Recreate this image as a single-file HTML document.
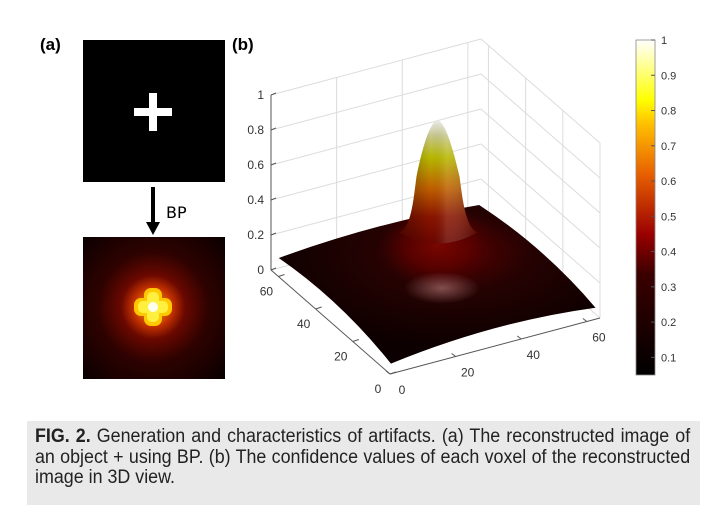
<!DOCTYPE html>
<html><head><meta charset="utf-8"><style>
body{margin:0;background:#fff;width:715px;height:517px;overflow:hidden;font-family:"Liberation Sans",sans-serif}
svg{position:absolute;left:0;top:0}
#caption{position:absolute;left:27px;top:421px;width:673px;height:84px;background:#e9e9e9}
#captext{position:absolute;left:8px;top:6px;width:697px;transform:scaleX(0.94);transform-origin:0 0;font-size:19px;line-height:20.5px;color:#222}
.ln{display:block;text-align:justify;text-align-last:justify;white-space:nowrap}
.ln.last{text-align-last:left}
</style></head><body>
<svg width="715" height="517" viewBox="0 0 715 517">
<defs>
<radialGradient id="glow" cx="0.5" cy="0.5" r="0.5">
<stop offset="0" stop-color="#ffb000"/><stop offset="0.2" stop-color="#c03000"/><stop offset="0.32" stop-color="#6a0800"/><stop offset="0.55" stop-color="#2e0200"/><stop offset="1" stop-color="#0a0000"/>
</radialGradient>
<linearGradient id="cmap" x1="0" y1="1" x2="0" y2="0">
<stop offset="0" stop-color="#000"/><stop offset="0.3" stop-color="#3a0000"/><stop offset="0.42" stop-color="#9a0000"/><stop offset="0.6" stop-color="#e86000"/><stop offset="0.75" stop-color="#ffc000"/><stop offset="0.82" stop-color="#ffff00"/><stop offset="1" stop-color="#ffffff"/>
</linearGradient>
<linearGradient id="peakg" x1="0" y1="0" x2="0" y2="1">
<stop offset="0" stop-color="#f0f0f0"/><stop offset="0.12" stop-color="#c8c890"/><stop offset="0.3" stop-color="#b8b800"/><stop offset="0.55" stop-color="#c06000"/><stop offset="0.78" stop-color="#8a1500"/><stop offset="1" stop-color="#6a0500"/>
</linearGradient>
<linearGradient id="peaksh" x1="0" y1="0" x2="1" y2="0">
<stop offset="0" stop-color="#000" stop-opacity="0.35"/><stop offset="0.4" stop-color="#000" stop-opacity="0"/><stop offset="0.6" stop-color="#fff" stop-opacity="0.12"/><stop offset="1" stop-color="#000" stop-opacity="0.3"/>
</linearGradient>
<radialGradient id="floorg" cx="0.55" cy="0.3" r="0.6">
<stop offset="0" stop-color="#5a0000"/><stop offset="0.4" stop-color="#260202"/><stop offset="1" stop-color="#0c0000"/>
</radialGradient>
<radialGradient id="redbase" cx="0.5" cy="0.5" r="0.5">
<stop offset="0" stop-color="#7a0600" stop-opacity="1"/><stop offset="0.55" stop-color="#600200" stop-opacity="0.7"/><stop offset="1" stop-color="#400000" stop-opacity="0"/>
</radialGradient>
<radialGradient id="spot" cx="0.5" cy="0.5" r="0.5">
<stop offset="0" stop-color="#c08080" stop-opacity="0.6"/><stop offset="1" stop-color="#c08080" stop-opacity="0"/>
</radialGradient>
</defs>

<text x="40" y="50" font-size="17" font-weight="bold">(a)</text>
<rect x="83" y="40" width="142" height="142" fill="#000"/>
<rect x="134" y="108" width="38" height="8" fill="#fff"/>
<rect x="149" y="93" width="8" height="38" fill="#fff"/>
<line x1="153" y1="187" x2="153" y2="225" stroke="#000" stroke-width="4"/>
<polygon points="146,222 160,222 153,235" fill="#000"/>
<text x="166" y="218" font-size="16" font-family="DejaVu Sans,sans-serif">BP</text>
<rect x="83" y="237" width="142" height="142" fill="#0a0000"/>
<g id="bpimg"></g>

<text x="232" y="50" font-size="17" font-weight="bold">(b)</text>
<g id="plot3d"></g>
<g id="cbar"></g>
</svg>
<div id="caption"><div id="captext">
<span class="ln"><b>FIG. 2.</b> Generation and characteristics of artifacts. (a) The reconstructed image of</span>
<span class="ln">an object + using BP. (b) The confidence values of each voxel of the reconstructed</span>
<span class="ln last">image in 3D view.</span>
</div></div>
<script>
const zTicks=[0,0.2,0.4,0.6,0.8,1];
const xTicks=[0,20,40,60];
const yTicks=[0,20,40,60];
const cbarTicks=[0.1,0.2,0.3,0.4,0.5,0.6,0.7,0.8,0.9,1];
const peakValue=[0.86];
const floorValue=[0.05];
(function(){
const NS='http://www.w3.org/2000/svg';
function mk(tag,attrs,parent){const e=document.createElementNS(NS,tag);for(const k in attrs)e.setAttribute(k,attrs[k]);parent.appendChild(e);return e;}
const bp=document.getElementById('bpimg');
const cp=mk('clipPath',{id:'bpclip'},bp);mk('rect',{x:83,y:237,width:142,height:142},cp);
const gg=mk('g',{'clip-path':'url(#bpclip)'},bp);
mk('circle',{cx:153,cy:307,r:100,fill:'url(#glow)'},gg);
const plusG=mk('g',{},gg);
mk('rect',{x:134,y:298,width:38,height:18,rx:7,fill:'#ffc800'},plusG);
mk('rect',{x:144,y:288,width:18,height:38,rx:7,fill:'#ffc800'},plusG);
mk('rect',{x:138,y:301,width:30,height:12,rx:5,fill:'#fff040'},plusG);
mk('rect',{x:147,y:292,width:12,height:30,rx:5,fill:'#fff040'},plusG);
mk('circle',{cx:153,cy:307,r:5,fill:'#fffff0'},plusG);

const O={x:390,y:374},EX={x:210,y:-56},EY={x:-119,y:-104},ZH=175;
function P(u,v,z){return {x:O.x+EX.x*u+EY.x*v,y:O.y+EX.y*u+EY.y*v-ZH*z};}
const g=document.getElementById('plot3d');
const grid='#dcdcdc';
function line(a,b,st,w,name){const l=mk('line',{x1:a.x,y1:a.y,x2:b.x,y2:b.y,stroke:st,'stroke-width':w||1},g);return l;}
zTicks.forEach(z=>{line(P(0,1,z),P(1,1,z),grid,1,'grid-z-left');line(P(1,1,z),P(1,0,z),grid,1,'grid-z-right');});
xTicks.forEach(t=>{const u=t/64;line(P(u,1,0),P(u,1,1),grid,1,'grid-x');});
yTicks.forEach(t=>{const v=t/64;line(P(1,v,0),P(1,v,1),grid,1,'grid-y');});
line(P(1,0,0),P(1,0,1),grid,1,'box-edge');
line(P(0,1,0),P(0,1,1),'#555',1,'z-axis');
const c1=P(0.02,0.97,floorValue[0]+0.03),c2=P(0.98,0.98,floorValue[0]+0.02),c3=P(0.99,0.02,floorValue[0]),c4=P(0.01,0.01,floorValue[0]);
const fd=`M${c1.x},${c1.y} Q${(c1.x+c2.x)/2},${(c1.y+c2.y)/2-10} ${c2.x},${c2.y} Q${(c2.x+c3.x)/2+8},${(c2.y+c3.y)/2-8} ${c3.x},${c3.y} Q${(c3.x+c4.x)/2},${(c3.y+c4.y)/2-14} ${c4.x},${c4.y} Q${(c4.x+c1.x)/2+6},${(c4.y+c1.y)/2-10} ${c1.x},${c1.y}Z`;
const floor=mk('path',{d:fd,fill:'url(#floorg)'},g);

const fc=mk('clipPath',{id:'floorclip'},g);mk('path',{d:fd},fc);
const fg=mk('g',{'clip-path':'url(#floorclip)'},g);
const rb=mk('ellipse',{cx:438,cy:245,rx:60,ry:42,fill:'url(#redbase)'},fg);

const sp=mk('ellipse',{cx:442,cy:288,rx:38,ry:16,fill:'url(#spot)'},fg);

const pTop=P(0.5,0.5,peakValue[0]);
const px=pTop.x+2,ty=pTop.y-23,by=ty+112;
const h=by-ty;
const pd=`M${px-38},${by} C${px-26},${by-5} ${px-24},${by-h*0.3} ${px-21},${by-h*0.5} C${px-15},${ty+26} ${px-7},${ty} ${px},${ty} C${px+7},${ty} ${px+15},${ty+26} ${px+22},${by-h*0.5} C${px+25},${by-h*0.3} ${px+28},${by-5} ${px+40},${by} Q${px},${by+22} ${px-38},${by} Z`;
const pk=mk('path',{d:pd,fill:'url(#peakg)'},g);

const pk2=mk('path',{d:pd,fill:'url(#peaksh)'},g);

line(P(0,1,0),P(0,0,0),'#555',1,'y-axis');
line(P(0,0,0),P(1,0,0),'#555',1,'x-axis');
function txt(x,y,s,anchor,name){const t=mk('text',{x:x,y:y,'font-size':12,fill:'#333','text-anchor':anchor},g);t.textContent=s;}
zTicks.forEach(z=>{const p=P(0,1,z);line(p,{x:p.x+5,y:p.y-2},'#555',1,'z-tick');txt(p.x-7,p.y+4,String(z),'end','z-tick-label');});
xTicks.forEach(t=>{const p=P(t/64,0,0);line(p,{x:p.x-4,y:p.y-3},'#555',1,'x-tick');txt(p.x+12,p.y+20,String(t),'middle','x-tick-label');});
yTicks.forEach(t=>{const p=P(0,t/64,0);line(p,{x:p.x+6,y:p.y-2},'#555',1,'y-tick');txt(p.x-12,p.y+19,String(t),'middle','y-tick-label');});
const cb=document.getElementById('cbar');
const cbTop=40,cbBot=375,vMin=0.05,vMax=1;
const cbY=v=>cbBot-(v-vMin)/(vMax-vMin)*(cbBot-cbTop);
const r=mk('rect',{x:636,y:cbTop,width:19,height:cbBot-cbTop,fill:'url(#cmap)',stroke:'#888','stroke-width':0.8},cb);

cbarTicks.forEach(v=>{const y=cbY(v);mk('line',{x1:651,y1:y,x2:655,y2:y,stroke:'#555'},cb);const t=mk('text',{x:661,y:y+4,'font-size':11,fill:'#333'},cb);t.textContent=String(v);});
})();
</script>
</body></html>
